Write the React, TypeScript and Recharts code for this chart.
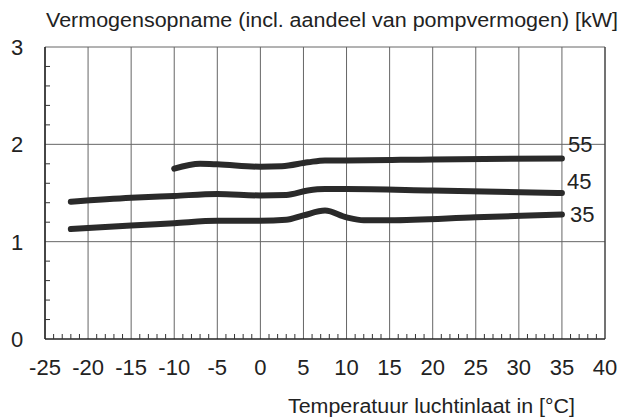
import { LineChart, Line, XAxis, YAxis, CartesianGrid } from 'recharts';

const xMajor = [-25, -20, -15, -10, -5, 0, 5, 10, 15, 20, 25, 30, 35, 40];
const xTicks = Array.from({ length: 66 }, (_, i) => i - 25);
const yTicks = [0, 0.2, 0.4, 0.6, 0.8, 1, 1.2, 1.4, 1.6, 1.8, 2, 2.2, 2.4, 2.6, 2.8, 3];
const yMajor = [0, 1, 2, 3];

const series35 = [
  { t: -22, p: 1.13 }, { t: -15, p: 1.165 }, { t: -10, p: 1.19 }, { t: -5, p: 1.215 },
  { t: 0, p: 1.215 }, { t: 3, p: 1.225 }, { t: 5, p: 1.27 }, { t: 7.5, p: 1.32 },
  { t: 10, p: 1.25 }, { t: 12, p: 1.22 }, { t: 15, p: 1.22 }, { t: 25, p: 1.25 }, { t: 35, p: 1.28 },
];
const series45 = [
  { t: -22, p: 1.41 }, { t: -15, p: 1.45 }, { t: -10, p: 1.47 }, { t: -5, p: 1.49 },
  { t: 0, p: 1.475 }, { t: 3, p: 1.48 }, { t: 5.5, p: 1.525 }, { t: 7.5, p: 1.54 },
  { t: 10, p: 1.54 }, { t: 20, p: 1.525 }, { t: 35, p: 1.5 },
];
const series55 = [
  { t: -10, p: 1.75 }, { t: -7, p: 1.8 }, { t: -5, p: 1.795 }, { t: 0, p: 1.77 },
  { t: 2.5, p: 1.775 }, { t: 5.5, p: 1.815 }, { t: 7.5, p: 1.835 }, { t: 10, p: 1.835 },
  { t: 20, p: 1.845 }, { t: 35, p: 1.855 },
];

const curves = [
  { name: '55', data: series55, dx: 6, dy: -14 },
  { name: '45', data: series45, dx: 5, dy: -12 },
  { name: '35', data: series35, dx: 8, dy: 0 },
];

const FONT = '"Liberation Sans", Arial, sans-serif';
const INK = '#222';

const XTick = ({ x, y, payload }: any) => {
  const v = payload.value;
  const major = xMajor.includes(v);
  return (
    <g>
      {!major && <line x1={x} y1={y} x2={x} y2={y - 5} stroke="#333" strokeWidth={1} />}
      {major && (
        <text x={x} y={y + 36} textAnchor="middle" fontSize={22} fontFamily={FONT} fill={INK}>
          {v}
        </text>
      )}
    </g>
  );
};

const YTick = ({ x, y, payload }: any) => {
  const v = payload.value;
  const major = yMajor.includes(v);
  return (
    <g>
      {!major && <line x1={x} y1={y} x2={x + 5} y2={y} stroke="#333" strokeWidth={1} />}
      {major && (
        <text x={x - 28} y={y + 8} textAnchor="middle" fontSize={22} fontFamily={FONT} fill={INK}>
          {v}
        </text>
      )}
    </g>
  );
};

export default function App() {
  return (
    <div style={{ position: 'absolute', left: 0, top: 0, width: 624, height: 419, background: '#fff' }}>
      <LineChart width={624} height={419} margin={{ top: 47, right: 0, bottom: 0, left: 0 }}>
        <CartesianGrid
          stroke="#666"
          horizontalValues={[1, 2, 3]}
          verticalValues={xMajor}
        />
        <XAxis
          dataKey="t"
          type="number"
          domain={[-25, 40]}
          ticks={xTicks}
          interval={0}
          height={80}
          tickSize={0}
          tickMargin={0}
          tickLine={false}
          tick={<XTick />}
          axisLine={{ stroke: '#222', strokeWidth: 1.5 }}
          allowDataOverflow
        />
        <YAxis
          type="number"
          domain={[0, 3]}
          ticks={yTicks}
          interval={0}
          width={45}
          tickSize={0}
          tickMargin={0}
          tickLine={false}
          tick={<YTick />}
          axisLine={{ stroke: '#222', strokeWidth: 1.5 }}
          allowDataOverflow
        />
        <YAxis
          yAxisId="r"
          orientation="right"
          type="number"
          domain={[0, 3]}
          ticks={[2]}
          width={19}
          tickSize={4}
          tick={false}
          tickLine={{ stroke: '#555' }}
          axisLine={{ stroke: '#333' }}
        />
        {curves.map((c) => (
          <Line
            key={c.name}
            data={c.data}
            dataKey="p"
            type="monotone"
            stroke="#2a2a2a"
            strokeWidth={6}
            strokeLinecap="round"
            dot={false}
            isAnimationActive={false}
            label={(props: any) =>
              props.index === c.data.length - 1 ? (
                <text
                  key={c.name}
                  x={props.x + c.dx}
                  y={props.y + c.dy + 8}
                  fontSize={22}
                  fontFamily={FONT}
                  fill={INK}
                >
                  {c.name}
                </text>
              ) : (
                <g key={props.index} />
              )
            }
          />
        ))}
      </LineChart>
      <svg
        width={624}
        height={419}
        style={{ position: 'absolute', left: 0, top: 0, pointerEvents: 'none' }}
      >
        <text x={46} y={27} fontSize={20} fontFamily={FONT} fill={INK} textLength={572} lengthAdjust="spacingAndGlyphs">
          Vermogensopname (incl. aandeel van pompvermogen) [kW]
        </text>
        <text x={288} y={413} fontSize={20} fontFamily={FONT} fill={INK} textLength={287} lengthAdjust="spacingAndGlyphs">
          Temperatuur luchtinlaat in [°C]
        </text>
      </svg>
    </div>
  );
}
